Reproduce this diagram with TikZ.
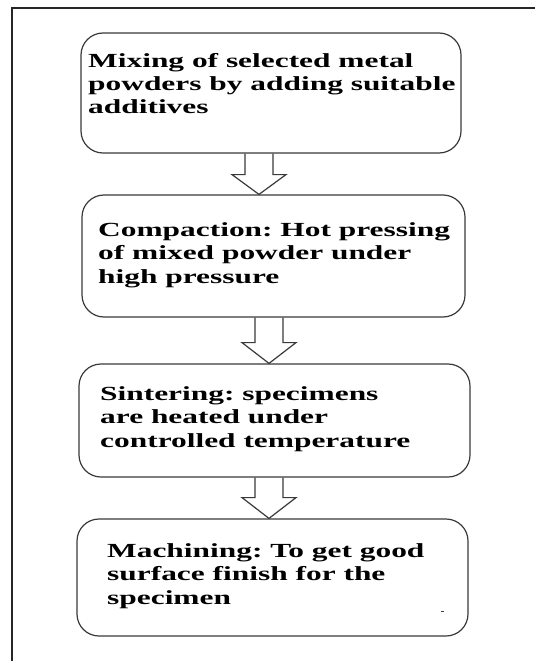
\documentclass[tikz,border=0pt]{standalone}
\usepackage{fontspec}
\setmainfont{Liberation Serif}
\usetikzlibrary{calc}
\definecolor{edge}{HTML}{3A3A3A}
\tikzset{
  stepbox/.style={draw=edge, line width=1.2pt, rounded corners=22pt, inner sep=0pt, fill=white},
  txt/.style={anchor=base west, inner sep=0pt, text=black},
  blk/.style={draw=edge, line width=1.2pt, line join=miter},
  frame/.style={draw=black!85, line width=1.5pt}
}
\newcommand\blockarrow[4]{%
  \draw[blk] (#1-14,0 |- #2.south) -- ($(#1-14,0 |- #2.south)+(0,#4)$)
    -- ($(#1-27,0 |- #2.south)+(0,#4)$) -- (#1,0 |- #3.north)
    -- ($(#1+27,0 |- #2.south)+(0,#4)$) -- ($(#1+14,0 |- #2.south)+(0,#4)$)
    -- (#1+14,0 |- #2.south);}
\newcommand\steptext[1]{\fontsize{20}{23.5}\selectfont\bfseries\frenchspacing
  \scalebox{1.57}[1]{\begin{tabular}[t]{@{}l@{}}#1\end{tabular}}}
\begin{document}
\begin{tikzpicture}[x=1pt,y=-1pt]
\useasboundingbox (0,0) rectangle (535,661);
\fill[white] (0,0) rectangle (535,661);
\draw[frame] (12,661) -- (12,8) -- (535,8);

\node[stepbox, minimum width=380pt, minimum height=120pt] (b1) at (271,93) {};
\node[stepbox, minimum width=383pt, minimum height=122pt] (b2) at (273.5,256) {};
\node[stepbox, minimum width=391pt, minimum height=113pt] (b3) at (274.5,420.5) {};
\node[stepbox, minimum width=391pt, minimum height=117pt] (b4) at (272.5,577.5) {};

\node[txt] (t1) at (88,67) {\steptext{Mixing of selected metal\\powders by adding suitable\\additives}};
\node[txt] (t2) at (98,236) {\steptext{Compaction: Hot pressing\\of mixed powder under\\high pressure}};
\node[txt] (t3) at (100,400) {\steptext{Sintering: specimens\\are heated under\\controlled temperature}};
\node[txt] (t4) at (107,557) {\steptext{Machining: To get good\\surface finish for the\\specimen}};

\blockarrow{259}{b1}{b2}{21}
\blockarrow{269}{b2}{b3}{25}
\blockarrow{269}{b3}{b4}{20}

\coordinate (d1) at (441,611);
\coordinate (d2) at (444,611);
\draw[edge, line width=1pt] (d1) -- (d2);
\end{tikzpicture}
\end{document}
